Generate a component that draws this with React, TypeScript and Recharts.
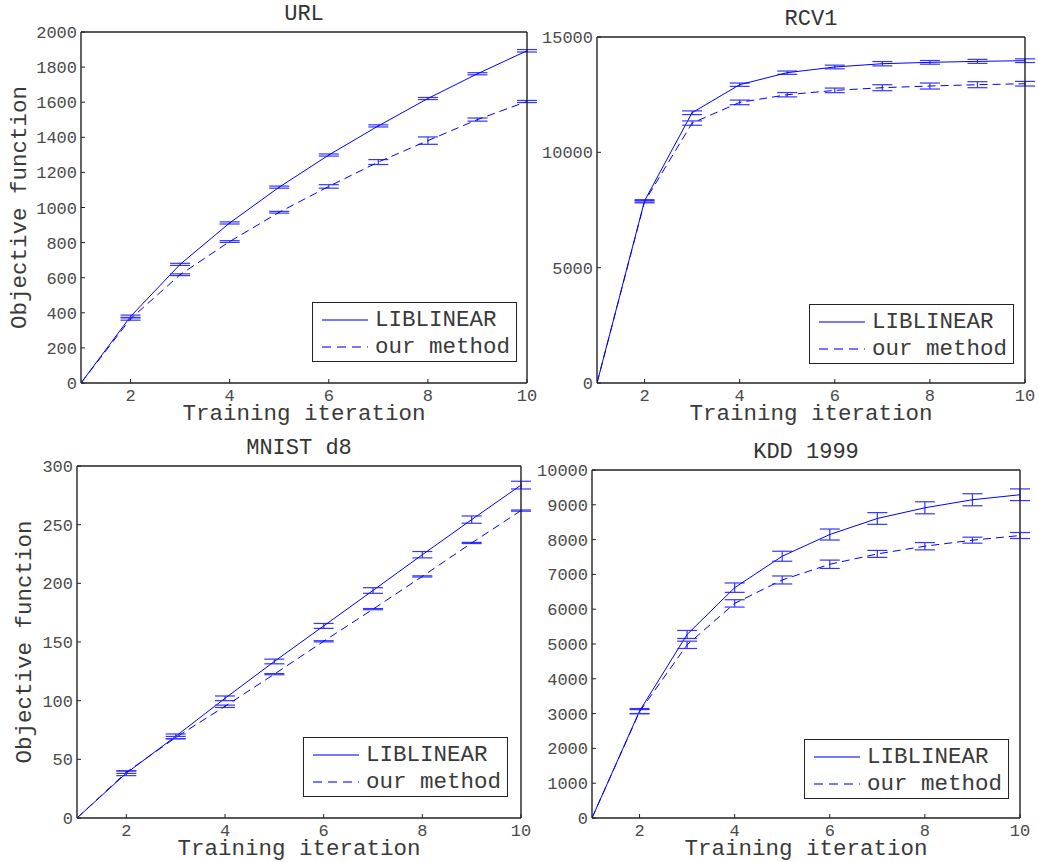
import React from "react"
import { LineChart, Line, XAxis, YAxis, ErrorBar } from "recharts"

// iteration index shared by every panel
const iterations = [1, 2, 3, 4, 5, 6, 7, 8, 9, 10]
const xTicks = [2, 4, 6, 8, 10]

// URL
const urlLib = [0, 379, 676, 912, 1116, 1299, 1465, 1621, 1762, 1893]
const urlLibErr = [0, 8, 6, 6, 6, 6, 6, 6, 6, 7]
const urlOur = [0, 366, 617, 806, 973, 1120, 1259, 1381, 1501, 1604]
const urlOurErr = [0, 8, 5, 5, 5, 10, 14, 21, 9, 6]
const urlTicks = [0, 200, 400, 600, 800, 1000, 1200, 1400, 1600, 1800, 2000]

// RCV1
const rcvLib = [0, 7898, 11717, 12932, 13453, 13699, 13843, 13901, 13944, 13973]
const rcvLibErr = [0, 50, 80, 72, 72, 80, 94, 80, 87, 80]
const rcvOur = [0, 7860, 11268, 12165, 12498, 12686, 12802, 12874, 12932, 12975]
const rcvOurErr = [0, 50, 94, 100, 94, 100, 130, 130, 130, 100]
const rcvTicks = [0, 5000, 10000, 15000]

// MNIST d8
const mnistLib = [0, 38.2, 69.6, 102, 133.4, 163.7, 193.9, 224.4, 254.3, 283.7]
const mnistLibErr = [0, 2.1, 2, 2, 2, 2.1, 2.4, 2.7, 3.1, 3.3]
const mnistOur = [0, 39, 68.5, 95.2, 122.6, 150.6, 178, 205.9, 234.4, 262]
const mnistOurErr = [0, 1, 1, 1, 0.5, 0.5, 0.5, 0.5, 0.5, 0.5]
const mnistTicks = [0, 50, 100, 150, 200, 250, 300]

// KDD 1999
const kddLib = [0, 3074, 5274, 6619, 7522, 8146, 8607, 8914, 9145, 9289]
const kddLibErr = [0, 72, 115, 135, 144, 158, 168, 173, 173, 168]
const kddOur = [0, 3055, 4976, 6167, 6840, 7291, 7589, 7810, 7983, 8117]
const kddOurErr = [0, 60, 105, 105, 115, 120, 100, 105, 86, 86]
const kddTicks = [0, 1000, 2000, 3000, 4000, 5000, 6000, 7000, 8000, 9000, 10000]

const FONT = "'Liberation Mono', 'Courier New', monospace"
const BLUE = "#0000ff"
const BAR = "#3535ff"
const AXIS = "#222"

const toRows = (lib: number[], libErr: number[], our: number[], ourErr: number[]) =>
  iterations.map((it, i) => ({ it, lib: lib[i], libErr: libErr[i], our: our[i], ourErr: ourErr[i] }))

type Rect = { l: number; t: number; r: number; b: number }

interface PanelProps {
  title: string
  rect: Rect
  yTicks: number[]
  data: ReturnType<typeof toRows>
  legend: { x: number; y: number }
  yLabelX?: number
}

const Panel = ({ title, rect, yTicks, data, legend, yLabelX }: PanelProps) => {
  const left = rect.l - 80
  const top = rect.t - 40
  const width = rect.r - rect.l + 110
  const height = rect.b - rect.t + 90
  const yMax = yTicks[yTicks.length - 1]

  const yLabel =
    yLabelX === undefined
      ? undefined
      : (props: any) => {
          const vb = props.viewBox || { x: 0, y: 40, height: rect.b - rect.t }
          const cx = yLabelX - left
          const cy = vb.y + vb.height / 2
          return (
            <text
              x={cx}
              y={cy}
              transform={`rotate(-90 ${cx} ${cy})`}
              textAnchor="middle"
              dominantBaseline="central"
              fontSize={22.5}
              fill="#3a3a3a"
              fontFamily={FONT}
            >
              Objective function
            </text>
          )
        }

  return (
    <>
      <div style={{ position: "absolute", left, top, width, height }}>
        <LineChart width={width} height={height} data={data} margin={{ top: 39, right: 29, bottom: 0, left: 0 }}>
          <XAxis
            dataKey="it"
            type="number"
            domain={[1, 10]}
            allowDataOverflow
            ticks={xTicks}
            height={50}
            tickSize={-4}
            tickMargin={10}
            axisLine={{ stroke: AXIS, strokeWidth: 1.4 }}
            tickLine={{ stroke: AXIS }}
            tick={{ fill: "#4a4a4a", fontSize: 17, fontFamily: FONT }}
            label={{ value: "Training iteration", position: "insideBottom", offset: 13, fill: "#3a3a3a", fontSize: 22.5, fontFamily: FONT }}
          />
          <XAxis
            xAxisId="top"
            orientation="top"
            dataKey="it"
            type="number"
            domain={[1, 10]}
            ticks={xTicks}
            height={1}
            tickSize={-4}
            axisLine={{ stroke: AXIS, strokeWidth: 1.4 }}
            tickLine={{ stroke: AXIS }}
            tick={false}
            label={{ value: title, position: "top", offset: 11, fill: "#333", fontSize: 22, fontFamily: FONT }}
          />
          <YAxis
            type="number"
            domain={[0, yMax]}
            ticks={yTicks}
            width={80}
            tickSize={-4}
            tickMargin={8}
            axisLine={{ stroke: AXIS, strokeWidth: 1.4 }}
            tickLine={{ stroke: AXIS }}
            tick={{ fill: "#4a4a4a", fontSize: 17, fontFamily: FONT }}
            label={yLabel}
          />
          <YAxis
            yAxisId="right"
            orientation="right"
            type="number"
            domain={[0, yMax]}
            ticks={yTicks}
            width={1}
            tickSize={-4}
            axisLine={{ stroke: AXIS, strokeWidth: 1.4 }}
            tickLine={{ stroke: AXIS }}
            tick={false}
          />
          <Line
            type="linear"
            dataKey="lib"
            stroke={BLUE}
            strokeWidth={1}
            dot={false}
            activeDot={false}
            isAnimationActive={false}
          >
            <ErrorBar dataKey="libErr" width={10} stroke={BAR} strokeWidth={1.2} direction="y" isAnimationActive={false} />
          </Line>
          <Line
            type="linear"
            dataKey="our"
            stroke={BLUE}
            strokeWidth={1}
            strokeDasharray="8 5"
            dot={false}
            activeDot={false}
            isAnimationActive={false}
          >
            <ErrorBar dataKey="ourErr" width={10} stroke={BAR} strokeWidth={1.2} direction="y" isAnimationActive={false} />
          </Line>
        </LineChart>
      </div>
      {/* legend box */}
      <div
        style={{
          position: "absolute",
          left: legend.x,
          top: legend.y,
          width: 203,
          height: 58,
          border: `1.5px solid ${AXIS}`,
          background: "#fff",
          fontFamily: FONT,
          fontSize: 22.5,
          color: "#3a3a3a",
        }}
      >
        {[
          { name: "LIBLINEAR", dash: undefined as string | undefined },
          { name: "our method", dash: "9 6" },
        ].map((s, i) => (
          <div key={s.name} style={{ position: "absolute", left: 0, top: 4 + i * 27, height: 26, display: "flex", alignItems: "center" }}>
            <svg width={58} height={26} style={{ display: "block" }}>
              <line x1={9} x2={55} y1={13} y2={13} stroke="#4a4aff" strokeWidth={1.3} strokeDasharray={s.dash} />
            </svg>
            <span style={{ marginLeft: 4, lineHeight: "26px", whiteSpace: "pre" }}>{s.name}</span>
          </div>
        ))}
      </div>
    </>
  )
}

export default function App() {
  return (
    <div style={{ position: "absolute", left: 0, top: 0, width: 1038, height: 862, background: "#fff", fontFamily: FONT }}>
      <Panel
        title="URL"
        rect={{ l: 81, t: 32, r: 527, b: 383 }}
        yTicks={urlTicks}
        data={toRows(urlLib, urlLibErr, urlOur, urlOurErr)}
        legend={{ x: 312, y: 302 }}
        yLabelX={20}
      />
      <Panel
        title="RCV1"
        rect={{ l: 597, t: 37, r: 1025, b: 383 }}
        yTicks={rcvTicks}
        data={toRows(rcvLib, rcvLibErr, rcvOur, rcvOurErr)}
        legend={{ x: 809, y: 304 }}
      />
      <Panel
        title="MNIST d8"
        rect={{ l: 77, t: 466, r: 521, b: 818 }}
        yTicks={mnistTicks}
        data={toRows(mnistLib, mnistLibErr, mnistOur, mnistOurErr)}
        legend={{ x: 303, y: 737 }}
        yLabelX={25}
      />
      <Panel
        title="KDD 1999"
        rect={{ l: 592, t: 470, r: 1020, b: 818 }}
        yTicks={kddTicks}
        data={toRows(kddLib, kddLibErr, kddOur, kddOurErr)}
        legend={{ x: 804, y: 739 }}
      />
    </div>
  )
}
